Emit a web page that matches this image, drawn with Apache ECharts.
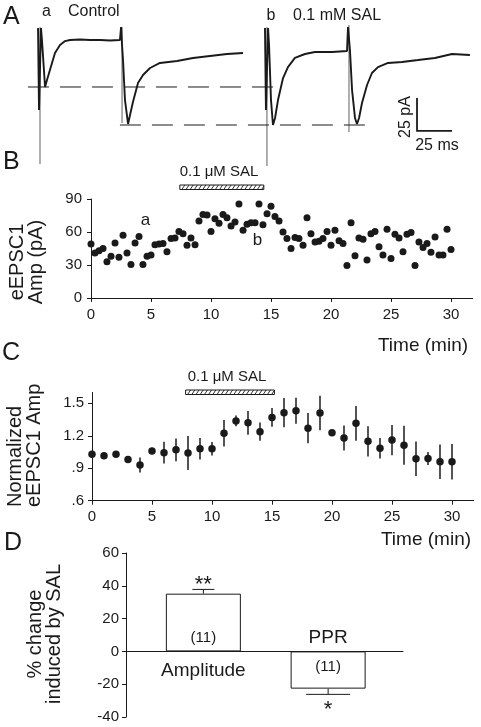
<!DOCTYPE html>
<html><head><meta charset="utf-8">
<script src="https://cdn.jsdelivr.net/npm/echarts@6/dist/echarts.min.js"></script>
<style>html,body{margin:0;padding:0;background:#fff}#c{width:481px;height:727px}</style>
</head><body><div id="c"></div>
<script>
// ===== Panel A: example traces (time in ms, current in pA) =====
const ctrlT = [-1.4, -0.7, 0.7, 1.4, 3.6, 5.0, 7.1, 10.7, 14.3, 17.9, 21.4, 28.6, 35.7, 42.9, 50, 57.1, 57.9, 58.6, 59.3, 60.7, 62.9, 64.3, 66.4, 70, 73.6, 78.6, 85.7, 97.9, 109.3, 121.4, 133.6, 145];
const ctrlI = [9.1, -53, 9.1, 0, -35.6, -30.3, -22.7, -9.8, -3.8, -0.8, 0, 0.4, 0, 0, -0.4, 0, 9.8, -3.8, -15.2, -45.5, -63.6, -56.8, -47, -32.6, -26.5, -21.2, -17.4, -15.9, -13.6, -12.1, -10.6, -9.8];
const salT = [160.7, 161.4, 162.9, 163.6, 165, 166.4, 167.9, 170, 173.6, 177.1, 182.1, 189.3, 196.4, 208.6, 219.3, 220, 221.4, 222.9, 225, 226.4, 227.9, 230, 233.6, 237.1, 241.4, 248.6, 258.6, 270, 282.1, 294.3, 307.1];
const salI = [9.1, -53, 9.1, -3.8, -45.5, -64.4, -59.1, -45.5, -28.8, -20.5, -13.6, -10.6, -9.1, -9.1, -8.3, 9.8, -7.6, -37.9, -59.1, -63.6, -59.1, -47.7, -34.1, -25, -20.5, -17.4, -16.7, -15.2, -13.6, -10.6, -11.4];
const artifactT = [0, 58.6, 162.1, 220.7];
const artifactTop = [9.8, 9.8, 9.8, 11.4];
const artifactBottom = [-93.9, -62.9, -95.5, -69.7];
const refLevel = [-35.6, -64.4];
const refStart = [-8.6, 57.1];
const refEnd = [166.4, 232.1];
const scaleOrigin = [269.3, -68.9];
const scaleMs = 25, scalePA = 25;

// ===== Panel B: single cell eEPSC1 amplitude =====
const bTime = [0,0.33,0.67,1,1.33,1.67,2,2.33,2.67,3,3.33,3.67,4,4.33,4.67,5,5.33,5.67,6,6.33,6.67,7,7.33,7.67,8,8.33,8.67,9,9.33,9.67,10,10.33,10.67,11,11.33,11.67,12,12.33,12.67,13,13.33,13.67,14,14.33,14.67,15,15.33,15.67,16,16.33,16.67,17,17.33,17.67,18,18.33,18.67,19,19.33,19.67,20,20.33,20.67,21,21.33,21.67,22,22.33,22.67,23,23.33,23.67,24,24.33,24.67,25,25.33,25.67,26,26.33,26.67,27,27.33,27.67,28,28.33,28.67,29,29.33,29.67,30];
const bAmp = [49,41,43,45,33,38,50,37,57,41,30.5,50,56,30.5,38,39,48.5,49,49.5,42,54,54.5,60.5,58.5,48,54.5,48.5,70,76,75.5,60.5,72,68,76,73,65.5,69,85.5,61.5,67,68.5,68.5,85.5,66.5,76.5,83.5,74,70,60,54,45,55,54,48,73,58.5,51,51.5,54,60.5,48,61.5,52,49.5,29.5,68.5,38.5,54.5,53.5,34.5,58.5,60.5,46.5,39,62.5,36,58,54.5,42,58,59.5,29.5,51,46,49.5,41.5,55.5,39,39,62.5,44];
const salBarB = [7.4, 14.4];

// ===== Panel C: normalized group mean ± SEM =====
const cTime = [0,1,2,3,4,5,6,7,8,9,10,11,12,13,14,15,16,17,18,19,20,21,22,23,24,25,26,27,28,29,30];
const cMean = [1.03,1.016,1.03,0.98,0.93,1.06,1.044,1.07,1.04,1.08,1.08,1.223,1.337,1.32,1.238,1.37,1.414,1.432,1.27,1.41,1.229,1.18,1.315,1.149,1.084,1.16,1.112,0.988,0.99,0.96,0.96];
const cSem = [0.02,0.02,0.01,0.015,0.07,0.01,0.1,0.105,0.157,0.1,0.063,0.123,0.05,0.11,0.085,0.087,0.135,0.12,0.14,0.16,0.015,0.115,0.16,0.14,0.095,0.14,0.18,0.16,0.06,0.16,0.165];
const salBarC = [7.8, 15.2];

// ===== Panel D: % change =====
const dCategories = ['Amplitude', 'PPR'];
const dMean = [35.2, -22.7];
const dSem = [2.6, 3.5];
const dN = [11, 11];
const dSig = ['**', '*'];

const timeTicks = [0, 5, 10, 15, 20, 25, 30];
const cTicks = [0.6, 0.9, 1.2, 1.5];

// ===== styles =====
const FONT = "'Liberation Sans', Arial, Helvetica, sans-serif";
const INK = '#1a1a1a';
const capW = [22, 44];
const f = (s) => s + 'px ' + FONT;

const zip = (a, b) => a.map((v, i) => [v, b[i]]);

function timeAxis(gi) {
  return {
    type: 'value', gridIndex: gi, min: 0, max: 31.8,
    axisLine: { show: true, onZero: false, lineStyle: { color: INK, width: 1 } },
    axisTick: { show: true, length: 4, customValues: timeTicks, lineStyle: { color: INK } },
    axisLabel: { customValues: timeTicks, fontFamily: FONT, fontSize: 15, color: INK, margin: 9 },
    splitLine: { show: false }
  };
}
const hidden = (gi, min, max) => ({ type: 'value', gridIndex: gi, min, max, show: false, splitLine: { show: false } });

function hatchBar(api, params, x0v, x1v, offset) {
  const cs = params.coordSys;
  const x0 = api.coord([x0v, 0])[0], x1 = api.coord([x1v, 0])[0];
  const top = cs.y - offset, h = 4.5, bot = top + h;
  const ch = [{ type: 'rect', shape: { x: x0, y: top, width: x1 - x0, height: h }, style: { fill: '#fff', stroke: INK, lineWidth: 1 } }];
  for (let xx = x0 + 2; xx < x1 - 1; xx += 4.2) {
    const xe = Math.min(xx + 3, x1);
    ch.push({ type: 'line', shape: { x1: xx, y1: bot, x2: xe, y2: bot - (xe - xx) * h / 3 }, style: { stroke: INK, lineWidth: 0.9 } });
  }
  return { type: 'group', children: ch };
}

const chart = echarts.init(document.getElementById('c'));
const option = {
  animation: false,
  backgroundColor: '#fff',
  grid: [
    { left: 12, top: 26.8, width: 469, height: 145.2 },
    { left: 91, top: 199, width: 381.6, height: 99 },
    { left: 92, top: 392.5, width: 381.6, height: 108.2 },
    { left: 126, top: 553, width: 277, height: 164 }
  ],
  xAxis: [
    hidden(0, -20, 315),
    timeAxis(1),
    timeAxis(2),
    { type: 'value', gridIndex: 3, min: -0.62, max: 1.6,
      axisLine: { show: true, onZero: true, lineStyle: { color: INK, width: 1 } },
      axisTick: { show: false }, axisLabel: { show: false }, splitLine: { show: false } }
  ],
  yAxis: [
    hidden(0, -100, 10),
    { type: 'value', gridIndex: 1, min: 0, max: 90, interval: 30,
      axisLine: { show: true, onZero: false, lineStyle: { color: INK } },
      axisTick: { show: true, length: 4, lineStyle: { color: INK } },
      axisLabel: { fontFamily: FONT, fontSize: 15, color: INK, margin: 9 }, splitLine: { show: false } },
    { type: 'value', gridIndex: 2, min: 0.6, max: 1.6,
      axisLine: { show: true, onZero: false, lineStyle: { color: INK } },
      axisTick: { show: true, length: 4, customValues: cTicks, lineStyle: { color: INK } },
      axisLabel: { customValues: cTicks, fontFamily: FONT, fontSize: 15, color: INK, margin: 8,
        formatter: (v) => v.toFixed(1).replace(/^0\./, '.') }, splitLine: { show: false } },
    { type: 'value', gridIndex: 3, min: -40, max: 60, interval: 20,
      axisLine: { show: true, onZero: false, lineStyle: { color: INK } },
      axisTick: { show: true, length: 4, lineStyle: { color: INK } },
      axisLabel: { fontFamily: FONT, fontSize: 15, color: INK, margin: 7 }, splitLine: { show: false } }
  ],
  series: [
    // ---- A
    { type: 'custom', xAxisIndex: 0, yAxisIndex: 0, clip: false,
      data: artifactT.map((t, i) => [t, artifactTop[i], artifactBottom[i]]),
      encode: { x: 0, y: [1, 2] },
      renderItem: (p, api) => {
        const a = api.coord([api.value(0), api.value(1)]), b = api.coord([api.value(0), api.value(2)]);
        return { type: 'line', shape: { x1: a[0], y1: a[1], x2: b[0], y2: b[1] }, style: { stroke: '#6e6e6e', lineWidth: 1.1 } };
      } },
    { type: 'custom', xAxisIndex: 0, yAxisIndex: 0, clip: false,
      data: refLevel.map((l, i) => [refStart[i], refEnd[i], l]),
      encode: { x: [0, 1], y: 2 },
      renderItem: (p, api) => {
        const a = api.coord([api.value(0), api.value(2)]), b = api.coord([api.value(1), api.value(2)]);
        return { type: 'line', shape: { x1: a[0], y1: a[1], x2: b[0], y2: b[1] }, style: { stroke: INK, lineWidth: 1, lineDash: [21, 11] } };
      } },
    { type: 'line', xAxisIndex: 0, yAxisIndex: 0, data: zip(ctrlT, ctrlI), showSymbol: false, symbol: 'none',
      lineStyle: { color: INK, width: 1.9 }, clip: false },
    { type: 'line', xAxisIndex: 0, yAxisIndex: 0, data: zip(salT, salI), showSymbol: false, symbol: 'none',
      lineStyle: { color: INK, width: 1.9 }, clip: false },
    { type: 'custom', xAxisIndex: 0, yAxisIndex: 0, clip: false,
      data: [[scaleOrigin[0], scaleOrigin[1], scaleOrigin[0] + scaleMs, scaleOrigin[1] + scalePA]],
      encode: { x: [0, 2], y: [1, 3] },
      renderItem: (p, api) => {
        const o = api.coord([api.value(0), api.value(1)]);
        const t = api.coord([api.value(0), api.value(3)]);
        const r = api.coord([api.value(2), api.value(1)]);
        return { type: 'polyline', shape: { points: [t, o, r] }, style: { stroke: INK, lineWidth: 1.8, fill: null } };
      } },
    // ---- B
    { type: 'scatter', xAxisIndex: 1, yAxisIndex: 1, data: zip(bTime, bAmp), symbolSize: 7,
      itemStyle: { color: INK, opacity: 1 } },
    { type: 'custom', xAxisIndex: 1, yAxisIndex: 1, clip: false, data: [salBarB], encode: { x: [0, 1] },
      renderItem: (p, api) => hatchBar(api, p, api.value(0), api.value(1), 14) },
    // ---- C
    { type: 'custom', xAxisIndex: 2, yAxisIndex: 2, clip: false,
      data: cTime.map((t, i) => [t, cMean[i], cSem[i]]), encode: { x: 0, y: 1 },
      renderItem: (p, api) => {
        const x = api.value(0), y = api.value(1), e = api.value(2);
        const a = api.coord([x, y - e]), b = api.coord([x, y + e]);
        return { type: 'line', shape: { x1: a[0], y1: a[1], x2: b[0], y2: b[1] }, style: { stroke: '#2a2a2a', lineWidth: 1.6 } };
      } },
    { type: 'scatter', xAxisIndex: 2, yAxisIndex: 2, data: zip(cTime, cMean), symbolSize: 7.5,
      itemStyle: { color: INK, opacity: 1 } },
    { type: 'custom', xAxisIndex: 2, yAxisIndex: 2, clip: false, data: [salBarC], encode: { x: [0, 1] },
      renderItem: (p, api) => hatchBar(api, p, api.value(0), api.value(1), 2.5) },
    // ---- D
    { type: 'bar', xAxisIndex: 3, yAxisIndex: 3, barWidth: 75, barGap: '-100%',
      data: dMean.map((v, i) => ({ value: [i, v],
        label: { show: true, formatter: '(' + dN[i] + ')', position: v >= 0 ? 'insideBottom' : 'insideTop',
          distance: v >= 0 ? 6 : 8, fontFamily: FONT, fontSize: 15, color: INK } })),
      itemStyle: { color: '#fff', borderColor: INK, borderWidth: 1 } },
    { type: 'bar', xAxisIndex: 3, yAxisIndex: 3, barWidth: 75, barGap: '-100%', silent: true,
      data: dMean.map((v, i) => ({ value: [i, v],
        label: { show: true, formatter: dCategories[i], position: v >= 0 ? 'bottom' : 'top',
          distance: v >= 0 ? 10 : 4, fontFamily: FONT, fontSize: 19, color: INK } })),
      itemStyle: { color: 'rgba(0,0,0,0)', borderWidth: 0 } },
    { type: 'custom', xAxisIndex: 3, yAxisIndex: 3, clip: false,
      data: dMean.map((v, i) => [i, v, dSem[i]]), encode: { x: 0, y: 1 },
      renderItem: (p, api) => {
        const i = p.dataIndex, x = api.value(0), y = api.value(1), e = api.value(2);
        const s = y >= 0 ? 1 : -1;
        const a = api.coord([x, y]), b = api.coord([x, y + s * e]);
        const w = capW[i] / 2;
        return { type: 'group', children: [
          { type: 'line', shape: { x1: a[0], y1: a[1], x2: b[0], y2: b[1] }, style: { stroke: INK, lineWidth: 1 } },
          { type: 'line', shape: { x1: b[0] - w, y1: b[1], x2: b[0] + w, y2: b[1] }, style: { stroke: INK, lineWidth: 1 } },
          { type: 'text', style: { text: dSig[i], x: b[0], y: s > 0 ? b[1] - 15 : b[1] + 5, align: 'center',
            verticalAlign: 'top', font: f(22), fill: INK } }
        ] };
      } }
  ],
  graphic: [
    { type: 'text', x: 3, y: 17, style: { text: 'A', font: f(25), fill: INK, verticalAlign: 'middle' } },
    { type: 'text', x: 3, y: 162, style: { text: 'B', font: f(25), fill: INK, verticalAlign: 'middle' } },
    { type: 'text', x: 2, y: 353, style: { text: 'C', font: f(25), fill: INK, verticalAlign: 'middle' } },
    { type: 'text', x: 4, y: 543, style: { text: 'D', font: f(25), fill: INK, verticalAlign: 'middle' } },
    { type: 'text', x: 46.5, y: 12, style: { text: 'a', font: f(16), fill: INK, align: 'center', verticalAlign: 'middle' } },
    { type: 'text', x: 68, y: 12, style: { text: 'Control', font: f(16), fill: INK, verticalAlign: 'middle' } },
    { type: 'text', x: 271, y: 15.5, style: { text: 'b', font: f(16), fill: INK, align: 'center', verticalAlign: 'middle' } },
    { type: 'text', x: 293, y: 15.5, style: { text: '0.1 mM SAL', font: f(16), fill: INK, verticalAlign: 'middle' } },
    { type: 'text', x: 406, y: 117, rotation: Math.PI / 2, style: { text: '25 pA', font: f(16), fill: INK, align: 'center', verticalAlign: 'middle' } },
    { type: 'text', x: 437, y: 146, style: { text: '25 ms', font: f(16), fill: INK, align: 'center', verticalAlign: 'middle' } },
    { type: 'text', x: 219, y: 172, style: { text: '0.1 \u03bcM SAL', font: f(15), fill: INK, align: 'center', verticalAlign: 'middle' } },
    { type: 'text', x: 145.5, y: 220, style: { text: 'a', font: f(17), fill: INK, align: 'center', verticalAlign: 'middle' } },
    { type: 'text', x: 257.5, y: 240, style: { text: 'b', font: f(17), fill: INK, align: 'center', verticalAlign: 'middle' } },
    { type: 'text', x: 423, y: 346, style: { text: 'Time (min)', font: f(19), fill: INK, align: 'center', verticalAlign: 'middle' } },
    { type: 'text', x: 227, y: 377, style: { text: '0.1 \u03bcM SAL', font: f(15), fill: INK, align: 'center', verticalAlign: 'middle' } },
    { type: 'text', x: 426, y: 540, style: { text: 'Time (min)', font: f(19), fill: INK, align: 'center', verticalAlign: 'middle' } },
    { type: 'text', x: 27, y: 262, rotation: Math.PI / 2, style: { text: 'eEPSC1\nAmp (pA)', font: f(20), lineHeight: 19, fill: INK, align: 'center', verticalAlign: 'middle' } },
    { type: 'text', x: 25, y: 507, rotation: Math.PI / 2, style: { text: 'Normalized\neEPSC1 Amp', font: f(20), lineHeight: 19, fill: INK, align: 'left', verticalAlign: 'middle' } },
    { type: 'text', x: 45, y: 634, rotation: Math.PI / 2, style: { text: '% change\ninduced by SAL', font: f(20), lineHeight: 19, fill: INK, align: 'center', verticalAlign: 'middle' } }
  ]
};
chart.setOption(option);
</script>
</body></html>
